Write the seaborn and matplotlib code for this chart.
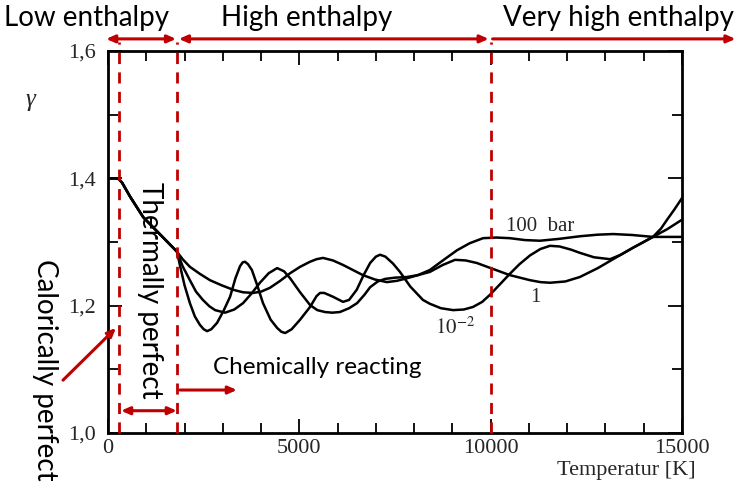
import numpy as np
import pandas as pd
import matplotlib
matplotlib.use("Agg")
import matplotlib.pyplot as plt
from matplotlib.ticker import MultipleLocator, FixedLocator, FixedFormatter
import seaborn as sns

# ---------------- data ----------------
T_common = [0, 200, 280, 370, 580, 920, 1360, 1800]
g_common = [1.400, 1.400, 1.399, 1.393, 1.371, 1.339, 1.312, 1.285]

T_p001 = [1900, 2000, 2140, 2270, 2400, 2500, 2590, 2700, 2850, 3020, 3190, 3330, 3450,
          3520, 3580, 3660, 3760, 3900, 4050, 4250, 4420, 4530, 4630, 4800, 5020, 5280,
          5450, 5540, 5650, 5880, 6140, 6300, 6500, 6680, 6850, 7000, 7110, 7250, 7450,
          7630, 7900, 8230, 8410, 8700, 9020, 9300, 9540, 9780, 9980, 10250, 10500, 10750,
          11030, 11300, 11550, 11800, 12100, 12330, 12700, 13120, 13400, 13720, 14000,
          14240, 14450, 14610, 14800, 15000]
g_p001 = [1.258, 1.232, 1.204, 1.183, 1.170, 1.163, 1.160, 1.163, 1.173, 1.192, 1.214, 1.243, 1.262,
          1.268, 1.269, 1.265, 1.256, 1.232, 1.204, 1.178, 1.165, 1.159, 1.157, 1.163, 1.178, 1.198,
          1.215, 1.220, 1.220, 1.214, 1.206, 1.209, 1.225, 1.248, 1.267, 1.277, 1.280, 1.277, 1.266,
          1.253, 1.230, 1.209, 1.203, 1.196, 1.193, 1.194, 1.198, 1.206, 1.217, 1.234, 1.250, 1.265,
          1.279, 1.289, 1.294, 1.293, 1.288, 1.283, 1.276, 1.273, 1.280, 1.291, 1.300,
          1.308, 1.321, 1.335, 1.351, 1.369]

T_p1 = [1950, 2140, 2300, 2480, 2650, 2800, 3060, 3300, 3530, 3750, 3970, 4200, 4420, 4600,
        4760, 5020, 5280, 5470, 5670, 5860, 6060, 6300, 6510, 6700, 6850, 7050, 7240, 7500,
        7810, 8100, 8410, 8750, 9070, 9350, 9640, 10000, 10500, 11030, 11300, 11550, 11950,
        12330, 12800, 13200, 13720, 14240, 14610, 15000]
g_p1 = [1.262, 1.240, 1.222, 1.209, 1.199, 1.193, 1.189, 1.194, 1.204, 1.219, 1.236, 1.251, 1.259, 1.254,
        1.243, 1.221, 1.201, 1.193, 1.190, 1.189, 1.190, 1.196, 1.204, 1.217, 1.229, 1.238, 1.242, 1.244,
        1.245, 1.248, 1.253, 1.264, 1.272, 1.271, 1.267, 1.259, 1.248, 1.240, 1.237, 1.236, 1.238,
        1.245, 1.259, 1.273, 1.291, 1.308, 1.320, 1.335]

T_p100 = [1950, 2140, 2400, 2665, 2970, 3270, 3530, 3790, 4000, 4230, 4500, 4760, 5020, 5280,
          5450, 5620, 5880, 6140, 6400, 6660, 6980, 7290, 7550, 7810, 8100, 8410, 8750, 9120,
          9450, 9800, 10150, 10500, 10900, 11290, 11800, 12330, 12800, 13200, 13700, 14240, 15000]
g_p100 = [1.273, 1.261, 1.250, 1.240, 1.232, 1.225, 1.221, 1.220, 1.222, 1.228, 1.239, 1.251, 1.261, 1.269,
          1.273, 1.275, 1.271, 1.264, 1.256, 1.248, 1.241, 1.237, 1.239, 1.243, 1.248, 1.256, 1.271, 1.287,
          1.298, 1.306, 1.307, 1.306, 1.303, 1.302, 1.305, 1.309, 1.3115, 1.3125, 1.311, 1.308, 1.308]

series_names = ["1e-2", "1", "100"]
region_bounds = [300, 1800, 10000]
xtick_vals = [0, 5000, 10000, 15000]
xtick_labels = ["0", "5000", "10000", "15000"]
ytick_vals = [1.0, 1.2, 1.4, 1.6]
ytick_labels = ["1,0", "1,2", "1,4", "1,6"]

frames = []
for name, T, g in zip(series_names, [T_p001, T_p1, T_p100], [g_p001, g_p1, g_p100]):
    frames.append(pd.DataFrame({"T": T_common + T, "gamma": g_common + g, "p": name}))
df = pd.concat(frames, ignore_index=True)

# ---------------- figure ----------------
sns.set_style("ticks")
plt.rcParams["font.family"] = ["Lato", "DejaVu Sans"]
plt.rcParams["mathtext.fontset"] = "stix"

RED = "#C00000"
SERIF = "Liberation Serif"

fig = plt.figure(figsize=(7.34, 4.83), dpi=100)
ax = fig.add_axes([108 / 734, 50 / 483, 574 / 734, 382 / 483])

sns.lineplot(data=df, x="T", y="gamma", hue="p", palette=["black"] * 3,
             estimator=None, sort=False, legend=False, linewidth=1.8, ax=ax)

ax.set_xlim(0, 15000)
ax.set_ylim(1.0, 1.6)
ax.xaxis.set_major_locator(FixedLocator(xtick_vals))
ax.xaxis.set_major_formatter(FixedFormatter(xtick_labels))
ax.xaxis.set_minor_locator(MultipleLocator(1000))
ax.yaxis.set_major_locator(FixedLocator(ytick_vals))
ax.yaxis.set_major_formatter(FixedFormatter(ytick_labels))
ax.yaxis.set_minor_locator(MultipleLocator(0.1))
ax.tick_params(which="both", direction="in", top=True, right=True, width=1.3, color="black")
ax.tick_params(which="major", length=10)
ax.tick_params(which="minor", length=7)
ax.tick_params(axis="x", which="major", pad=4)
ax.tick_params(axis="y", which="major", pad=9)
for lab in ax.get_xticklabels() + ax.get_yticklabels():
    lab.set_fontfamily(SERIF)
    lab.set_fontsize(16)
for s in ax.spines.values():
    s.set_linewidth(2)
    s.set_color("black")
ax.set_xlabel("")
ax.set_ylabel("")

# curve labels
ax.text(11300, 1.325, "100  bar", family=SERIF, fontsize=15, ha="center", va="center")
ax.text(11160, 1.213, "1", family=SERIF, fontsize=15, ha="center", va="center")
ax.text(9070, 1.166, r"$10^{-2}$", fontsize=15, ha="center", va="center")

fig.text(30 / 734, 383 / 483, "γ", family=SERIF, fontsize=18, style="italic",
         ha="center", va="center")
fig.text(626 / 734, 13 / 483, "Temperatur [K]", family=SERIF, fontsize=16,
         ha="center", va="center")

# red dashed region boundaries
for b in region_bounds:
    ax.plot([b, b], [1.0, 1.614], color=RED, lw=2, ls=(0, (4, 3)), clip_on=False, zorder=5)

# top region arrows
ytop = 1.619
arrow_kw = dict(color=RED, lw=2.2, shrinkA=0, shrinkB=0)
ax.annotate("", xy=(-50, ytop), xytext=(1780, ytop), annotation_clip=False,
            arrowprops=dict(arrowstyle="<|-|>,head_length=0.5,head_width=0.22", **arrow_kw))
ax.annotate("", xy=(1850, ytop), xytext=(9950, ytop), annotation_clip=False,
            arrowprops=dict(arrowstyle="<|-|>,head_length=0.5,head_width=0.22", **arrow_kw))
ax.annotate("", xy=(10050, ytop), xytext=(16400, ytop), annotation_clip=False,
            arrowprops=dict(arrowstyle="<|-,head_length=0.5,head_width=0.22", **arrow_kw))

# bottom arrows
ax.annotate("", xy=(340, 1.035), xytext=(1800, 1.035), annotation_clip=False,
            arrowprops=dict(arrowstyle="<|-|>,head_length=0.5,head_width=0.22", **arrow_kw))
ax.annotate("", xy=(3370, 1.0675), xytext=(1880, 1.0675), annotation_clip=False,
            arrowprops=dict(arrowstyle="-|>,head_length=0.5,head_width=0.22", **arrow_kw))
ax.annotate("", xy=(209, 1.165), xytext=(-1176, 1.083), annotation_clip=False,
            arrowprops=dict(arrowstyle="-|>,head_length=0.5,head_width=0.22", **arrow_kw))

# annotation texts
TXT = dict(fontsize=20, color="black")
fig.text(87 / 734, 1 - 18 / 483, "Low enthalpy", ha="center", va="center", **TXT)
fig.text(307 / 734, 1 - 18 / 483, "High enthalpy", ha="center", va="center", **TXT)
fig.text(618 / 734, 1 - 18 / 483, "Very high enthalpy", ha="center", va="center", **TXT)
fig.text(317 / 734, 1 - 367 / 483, "Chemically reacting", ha="center", va="center",
         fontsize=17.5, color="black")
fig.text(150 / 734, 1 - 290 / 483, "Thermally perfect", ha="center", va="center",
         rotation=270, **TXT)
fig.text(45 / 734, 1 - 370 / 483, "Calorically perfect", ha="center", va="center",
         rotation=270, **TXT)

fig.savefig("out.png", dpi=100)
